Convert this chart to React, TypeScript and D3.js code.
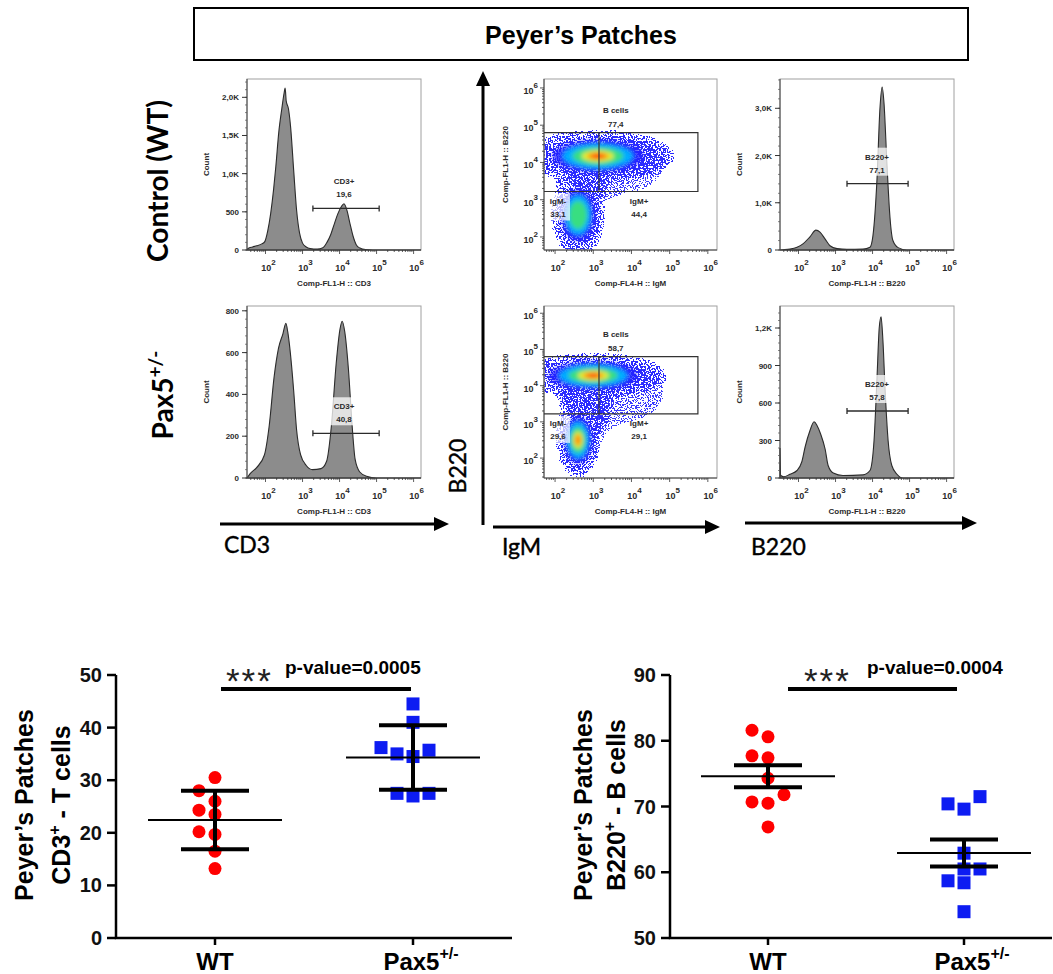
import * as d3 from 'd3';
import { useEffect, useRef } from 'react';

const W = 1053;
const H = 974;
const ARIAL = "'Liberation Sans', Arial, sans-serif";
const CALIBRI = "Lato, 'Open Sans', sans-serif";

// FlowJo histogram traces: [log10 fluorescence, count]
const cd3WtHist = [
  [1.5, 0], [1.53, 20], [1.65, 40], [1.76, 55], [1.9, 80], [1.98, 110], [2.06, 250], [2.14, 480],
  [2.22, 800], [2.28, 1100], [2.36, 1550], [2.44, 1850], [2.5, 2050], [2.53, 2120], [2.56, 1950],
  [2.62, 1850], [2.68, 1600], [2.76, 1050], [2.84, 520], [2.92, 220], [3.0, 90], [3.1, 40], [3.2, 20],
  [3.4, 12], [3.55, 30], [3.66, 100], [3.76, 200], [3.85, 330], [3.95, 470], [4.05, 570], [4.12, 605],
  [4.2, 520], [4.28, 350], [4.36, 190], [4.45, 70], [4.55, 25], [4.7, 5], [4.9, 0], [6.2, 0],
];
const cd3PaxHist = [
  [1.5, 0], [1.58, 20], [1.76, 50], [1.97, 110], [2.1, 250], [2.23, 480], [2.35, 620], [2.47, 690],
  [2.55, 740], [2.6, 700], [2.67, 600], [2.76, 420], [2.84, 230], [2.95, 110], [3.1, 60], [3.27, 40],
  [3.5, 45], [3.65, 80], [3.78, 250], [3.91, 550], [4.01, 710], [4.07, 750], [4.14, 700], [4.24, 520],
  [4.34, 250], [4.42, 90], [4.54, 30], [4.73, 8], [5.0, 0], [6.2, 0],
];
const b220WtHist = [
  [1.5, 0], [1.58, 5], [1.77, 20], [1.96, 60], [2.12, 130], [2.31, 280], [2.47, 420], [2.58, 380],
  [2.72, 230], [2.85, 90], [3.04, 30], [3.31, 15], [3.74, 20], [3.93, 60], [4.01, 300], [4.12, 1500],
  [4.2, 3000], [4.26, 3450], [4.31, 3100], [4.39, 1800], [4.47, 700], [4.55, 200], [4.69, 50],
  [4.93, 0], [6.2, 0],
];
const b220PaxHist = [
  [1.5, 240], [1.52, 20], [1.6, 10], [1.77, 30], [1.96, 60], [2.09, 130], [2.18, 250], [2.31, 380],
  [2.42, 450], [2.5, 420], [2.6, 350], [2.72, 230], [2.8, 100], [2.94, 40], [3.2, 20], [3.74, 25],
  [3.93, 60], [4.04, 300], [4.12, 800], [4.18, 1200], [4.23, 1290], [4.28, 1100], [4.34, 700],
  [4.42, 300], [4.52, 100], [4.66, 30], [4.82, 0], [6.2, 0],
];

const cd3WtTicks = [0, 500, 1000, 1500, 2000];
const cd3WtTickLabels = ['0', '500', '1,0K', '1,5K', '2,0K'];
const cd3PaxTicks = [0, 200, 400, 600, 800];
const cd3PaxTickLabels = ['0', '200', '400', '600', '800'];
const b220WtTicks = [0, 1000, 2000, 3000];
const b220WtTickLabels = ['0', '1,0K', '2,0K', '3,0K'];
const b220PaxTicks = [0, 300, 600, 900, 1200];
const b220PaxTickLabels = ['0', '300', '600', '900', '1,2K'];

// histogram gates: [from, to, count level]
const cd3Gates = [[3.28, 5.07, 545], [3.28, 5.07, 214]];
const cd3GateValues = ['19,6', '40,8'];
const b220Gates = [[3.31, 4.96, 1404], [3.31, 4.96, 536]];
const b220GateValues = ['77,1', '57,8'];

// IgM x B220 density clusters: [IgM, B220, spread IgM, spread B220, intensity]
const igmWtClusters = [
  [3.12, 4.17, 1.4, 0.5, 6],
  [2.6, 2.59, 0.5, 0.8, 3],
  [2.75, 3.4, 0.45, 0.55, 0],
];
const igmPaxClusters = [
  [3.0, 4.28, 1.35, 0.45, 6],
  [2.6, 2.5, 0.42, 0.75, 5],
  [2.8, 3.4, 0.5, 0.55, 0],
];
// sparse events: [IgM, B220, spread IgM, spread B220]
const igmWtSparse = [[3.5, 3.9, 1.8, 1.2], [2.7, 2.2, 0.9, 0.8]];
const igmPaxSparse = [[3.5, 3.8, 1.8, 1.3], [2.7, 2.2, 0.9, 0.8]];
const bCellGate = [3.22, 4.8, 5.74];
const igmSplit = 3.15;
const bCellValues = ['77,4', '58,7'];
const igmNegValues = ['33,1', '29,6'];
const igmPosValues = ['44,4', '29,1'];

// dot plots (% of cells)
const groups = ['WT', 'Pax5'];
const cd3Wt = [30.5, 28, 26, 24.3, 23.5, 20.2, 19.7, 16.5, 13.2];
const cd3Pax = [44.5, 41, 36.2, 35.7, 35, 34.5, 27.5, 27.5, 27];
const b220Wt = [81.6, 80.6, 77.7, 77.4, 74.3, 71.8, 70.7, 70.5, 66.9];
const b220Pax = [71.5, 70.4, 69.6, 62.9, 60.5, 60.5, 58.7, 58.4, 54.0];
const cd3AxisTicks = [0, 10, 20, 30, 40, 50];
const b220AxisTicks = [50, 60, 70, 80, 90];

const HIST_X = [1.5, 6.2];
const DENS_X = [1.71, 6.24];
const levelColors = ['#2020ff', '#00b4ff', '#3ce07a', '#f2ee1e', '#ff8a10', '#ff1a10'];
const levelScale = [0.85, 0.66, 0.48, 0.3, 0.2, 0.1];

function flowText(g, x, y, txt, anchor = 'middle') {
  return g.append('text').attr('x', x).attr('y', y).attr('text-anchor', anchor)
    .attr('font-family', ARIAL).attr('font-weight', 'bold').attr('font-size', 8).attr('fill', '#2a2a2a').text(txt);
}

function logAxisX(g, x, yb, domain) {
  for (let d = Math.floor(domain[0]); d <= domain[1]; d++) {
    for (let k = 1; k <= 9; k++) {
      const v = d + Math.log10(k);
      if (v <= domain[0] || v >= domain[1]) continue;
      g.append('line').attr('x1', x(v)).attr('x2', x(v)).attr('y1', yb).attr('y2', yb + (k === 1 ? 4 : 2))
        .attr('stroke', '#333').attr('stroke-width', 0.8);
      if (k === 1) {
        const t = g.append('text').attr('x', x(v) + 3).attr('y', yb + 21).attr('text-anchor', 'middle')
          .attr('font-family', ARIAL).attr('font-weight', 'bold').attr('font-size', 9).attr('fill', '#2a2a2a');
        t.append('tspan').text('10');
        t.append('tspan').attr('dy', -6).attr('font-size', 8).text(d);
      }
    }
  }
}

function logAxisY(g, y, xb, domain) {
  for (let d = Math.floor(domain[0]); d <= domain[1]; d++) {
    for (let k = 1; k <= 9; k++) {
      const v = d + Math.log10(k);
      if (v <= domain[0] || v >= domain[1]) continue;
      g.append('line').attr('x1', xb).attr('x2', xb - (k === 1 ? 4 : 2)).attr('y1', y(v)).attr('y2', y(v))
        .attr('stroke', '#333').attr('stroke-width', 0.8);
      if (k === 1) {
        const t = g.append('text').attr('x', xb - 6).attr('y', y(v) + 6).attr('text-anchor', 'end')
          .attr('font-family', ARIAL).attr('font-weight', 'bold').attr('font-size', 9).attr('fill', '#2a2a2a');
        t.append('tspan').text('10');
        t.append('tspan').attr('dy', -6).attr('font-size', 8).text(d);
      }
    }
  }
}

function drawHist(root, o) {
  const { x0, y0, w, h, trace, yMax, ticks, tickLabels, gate, gateName, gateValue, xLabel } = o;
  const x = d3.scaleLinear().domain(HIST_X).range([x0, x0 + w]);
  const y = d3.scaleLinear().domain([0, yMax]).range([y0 + h, y0]);
  const g = root.append('g');
  g.append('rect').attr('x', x0).attr('y', y0).attr('width', w).attr('height', h)
    .attr('fill', '#fff').attr('stroke', '#a0a0a0');
  const area = d3.area().x((d) => x(d[0])).y0(y(0)).y1((d) => y(d[1])).curve(d3.curveMonotoneX);
  g.append('path').datum(trace).attr('d', area).attr('fill', '#8c8c8c')
    .attr('stroke', '#2b2b2b').attr('stroke-width', 1.1);
  g.append('path').attr('d', `M${x0},${y0}V${y0 + h}H${x0 + w}`).attr('fill', 'none')
    .attr('stroke', '#444').attr('stroke-width', 1);

  const step = ticks[1] / 5;
  d3.range(0, yMax, step).forEach((v) => {
    g.append('line').attr('x1', x0).attr('x2', x0 - 2).attr('y1', y(v)).attr('y2', y(v))
      .attr('stroke', '#555').attr('stroke-width', 0.7);
  });
  ticks.forEach((t, i) => {
    g.append('line').attr('x1', x0).attr('x2', x0 - 5).attr('y1', y(t)).attr('y2', y(t))
      .attr('stroke', '#333').attr('stroke-width', 1);
    flowText(g, x0 - 8, y(t) + 3, tickLabels[i], 'end');
  });
  logAxisX(g, x, y0 + h, HIST_X);
  flowText(g, x0 + w / 2, y0 + h + 36, xLabel);
  flowText(g, 0, 0, 'Count').attr('transform', `translate(${x0 - 38},${y0 + h / 2}) rotate(-90)`);

  // gate
  const gy = y(gate[2]);
  g.append('path').attr('d', `M${x(gate[0])},${gy}H${x(gate[1])}M${x(gate[0])},${gy - 3}v6M${x(gate[1])},${gy - 3}v6`)
    .attr('stroke', '#2b2b2b').attr('stroke-width', 1.3).attr('fill', 'none');
  const lx = x(4.12);
  g.append('rect').attr('x', lx - 13).attr('y', gy - 36).attr('width', 26).attr('height', 28)
    .attr('fill', '#fff').attr('opacity', 0.75);
  flowText(g, lx, gy - 24, gateName);
  flowText(g, lx, gy - 11, gateValue);
}

function drawDensity(root, o) {
  const { x0, y0, w, h, yDomain, clusters, sparse, bVal, negVal, posVal, clipId } = o;
  const x = d3.scaleLinear().domain(DENS_X).range([x0, x0 + w]);
  const y = d3.scaleLinear().domain(yDomain).range([y0 + h, y0]);
  const rx = (c, s) => (x(c[0] + c[2]) - x(c[0])) * s;
  const ry = (c, s) => (y(c[1]) - y(c[1] + c[3])) * s;
  const g = root.append('g');
  g.append('rect').attr('x', x0).attr('y', y0).attr('width', w).attr('height', h).attr('fill', '#fff');
  g.append('clipPath').attr('id', clipId).append('rect')
    .attr('x', x0).attr('y', y0).attr('width', w).attr('height', h);
  const inner = g.append('g').attr('clip-path', `url(#${clipId})`);

  const thin = inner.append('g').attr('filter', 'url(#sparse)');
  sparse.forEach((c) => {
    thin.append('ellipse').attr('cx', x(c[0])).attr('cy', y(c[1]))
      .attr('rx', rx(c, 1)).attr('ry', ry(c, 1)).attr('fill', '#000');
  });
  const halo = inner.append('g').attr('filter', 'url(#speckle)');
  clusters.forEach((c) => {
    halo.append('ellipse').attr('cx', x(c[0])).attr('cy', y(c[1]))
      .attr('rx', rx(c, 1.5)).attr('ry', ry(c, 1.5)).attr('fill', '#000');
  });
  const core = inner.append('g').attr('filter', 'url(#soft)');
  clusters.forEach((c) => {
    for (let k = 0; k < c[4]; k++) {
      core.append('ellipse').attr('cx', x(c[0])).attr('cy', y(c[1]))
        .attr('rx', rx(c, levelScale[k])).attr('ry', ry(c, levelScale[k]))
        .attr('fill', levelColors[k]).attr('opacity', k === 0 ? 0.85 : 0.95);
    }
  });

  g.append('rect').attr('x', x0).attr('y', y0).attr('width', w).attr('height', h)
    .attr('fill', 'none').attr('stroke', '#a0a0a0');
  g.append('path').attr('d', `M${x0},${y0}V${y0 + h}H${x0 + w}`).attr('fill', 'none')
    .attr('stroke', '#444').attr('stroke-width', 1);
  logAxisX(g, x, y0 + h, DENS_X);
  logAxisY(g, y, x0, yDomain);
  flowText(g, x0 + w / 2, y0 + h + 36, 'Comp-FL4-H :: IgM');
  flowText(g, 0, 0, 'Comp-FL1-H :: B220').attr('transform', `translate(${x0 - 36},${y0 + h / 2}) rotate(-90)`);

  // gates
  const top = y(bCellGate[1]);
  const bot = y(bCellGate[0]);
  g.append('path').attr('d', `M${x0},${top}H${x(bCellGate[2])}V${bot}H${x0}M${x(igmSplit)},${top}V${bot}`)
    .attr('fill', 'none').attr('stroke', '#333').attr('stroke-width', 1.2);
  flowText(g, x(3.59), top - 20, 'B cells');
  flowText(g, x(3.59), top - 6, bVal);
  g.append('rect').attr('x', x0 + 2).attr('y', bot + 2).attr('width', 24).attr('height', 27)
    .attr('fill', '#fff').attr('opacity', 0.7);
  flowText(g, x0 + 14, bot + 12, 'IgM-');
  flowText(g, x0 + 14, bot + 25, negVal);
  flowText(g, x(4.2), bot + 12, 'IgM+');
  flowText(g, x(4.2), bot + 25, posVal);
}

function dodge(values, y, gap) {
  const order = d3.range(values.length).sort((a, b) => values[a] - values[b]);
  const cols = new Array(values.length);
  const placed = [];
  const cand = [0, -1, 1, -2, 2];
  order.forEach((i) => {
    const c = cand.find((col) => placed.every((p) => p.col !== col || Math.abs(y(p.v) - y(values[i])) >= gap));
    cols[i] = c;
    placed.push({ col: c, v: values[i] });
  });
  return cols;
}

function drawDots(root, o) {
  const { left, right, axisEnd, top, bottom, domain, ticks, wt, pax, err, line1X, line2X, line2, sigA, sigB, starX, pX, pText } = o;
  const y = d3.scaleLinear().domain(domain).range([bottom, top]);
  const x = d3.scalePoint().domain(groups).range([left, right]).padding(0.5);
  const g = root.append('g').attr('font-family', ARIAL).attr('font-weight', 'bold');

  g.append('path').attr('d', `M${left},${top}V${bottom}H${axisEnd}`).attr('fill', 'none')
    .attr('stroke', '#000').attr('stroke-width', 2.5);
  ticks.forEach((t) => {
    g.append('line').attr('x1', left - 9).attr('x2', left).attr('y1', y(t)).attr('y2', y(t))
      .attr('stroke', '#000').attr('stroke-width', 2.5);
    g.append('text').attr('x', left - 14).attr('y', y(t) + 7).attr('text-anchor', 'end')
      .attr('font-size', 20).attr('fill', '#111').text(t);
  });
  groups.forEach((k) => {
    g.append('line').attr('x1', x(k)).attr('x2', x(k)).attr('y1', bottom).attr('y2', bottom + 7)
      .attr('stroke', '#000').attr('stroke-width', 2.5);
  });
  g.append('text').attr('x', x('WT')).attr('y', 970).attr('text-anchor', 'middle').attr('font-size', 24).text('WT');
  const pt = g.append('text').attr('x', x('Pax5') + 8).attr('y', 970).attr('text-anchor', 'middle').attr('font-size', 24);
  pt.append('tspan').text('Pax5');
  pt.append('tspan').attr('dy', -11).attr('font-size', 16).text('+/-');

  const cy = 805;
  g.append('text').attr('transform', `translate(${line1X},${cy}) rotate(-90)`).attr('text-anchor', 'middle')
    .attr('font-size', 25).text('Peyer’s Patches');
  const l2 = g.append('text').attr('transform', `translate(${line2X},${cy}) rotate(-90)`).attr('text-anchor', 'middle')
    .attr('font-size', 25);
  l2.append('tspan').text(line2[0]);
  l2.append('tspan').attr('dy', -10).attr('font-size', 16).text('+');
  l2.append('tspan').attr('dy', 10).text(line2[1]);

  // significance
  g.append('line').attr('x1', x('WT') + sigA).attr('x2', x('Pax5') + sigB).attr('y1', 689).attr('y2', 689)
    .attr('stroke', '#000').attr('stroke-width', 4);
  g.append('text').attr('x', starX).attr('y', 693).attr('font-size', 35).attr('font-weight', 'normal')
    .attr('fill', '#222').attr('letter-spacing', 2).text('***');
  g.append('text').attr('x', pX).attr('y', 674).attr('font-size', 19).text(pText);

  [[wt, 'WT'], [pax, 'Pax5']].forEach(([vals, key]) => {
    const cx = x(key);
    const cols = dodge(vals, y, 13);
    const m = d3.mean(vals);
    const sd = d3.deviation(vals);
    const e = err === 'sd' ? sd : sd / Math.sqrt(vals.length);
    vals.forEach((v, i) => {
      const px = cx + cols[i] * 16;
      if (key === 'WT') {
        g.append('circle').attr('cx', px).attr('cy', y(v)).attr('r', 6.5).attr('fill', '#ff0000');
      } else {
        g.append('rect').attr('x', px - 6.5).attr('y', y(v) - 6.5).attr('width', 13).attr('height', 13).attr('fill', '#0d1cf2');
      }
    });
    g.append('line').attr('x1', cx - 67).attr('x2', cx + 67).attr('y1', y(m)).attr('y2', y(m))
      .attr('stroke', '#000').attr('stroke-width', 2);
    g.append('line').attr('x1', cx).attr('x2', cx).attr('y1', y(m + e)).attr('y2', y(m - e))
      .attr('stroke', '#000').attr('stroke-width', 4);
    [m + e, m - e].forEach((v) => {
      g.append('line').attr('x1', cx - 34).attr('x2', cx + 34).attr('y1', y(v)).attr('y2', y(v))
        .attr('stroke', '#000').attr('stroke-width', 4);
    });
  });
}

function arrow(root, x1, y1, x2, y2) {
  const a = Math.atan2(y2 - y1, x2 - x1);
  const L = 15;
  const hw = 7;
  const bx = x2 - L * Math.cos(a);
  const by = y2 - L * Math.sin(a);
  root.append('line').attr('x1', x1).attr('y1', y1).attr('x2', bx).attr('y2', by)
    .attr('stroke', '#000').attr('stroke-width', 3);
  root.append('path')
    .attr('d', `M${x2},${y2}L${bx - hw * Math.sin(a)},${by + hw * Math.cos(a)}L${bx + hw * Math.sin(a)},${by - hw * Math.cos(a)}Z`)
    .attr('fill', '#000');
}

export default function App() {
  const ref = useRef(null);

  useEffect(() => {
    const root = d3.select(ref.current);
    root.selectAll('*').remove();

    // title box
    root.append('rect').attr('x', 194).attr('y', 8).attr('width', 774).attr('height', 52)
      .attr('fill', '#fff').attr('stroke', '#000').attr('stroke-width', 2);
    root.append('text').attr('x', 581).attr('y', 44).attr('text-anchor', 'middle')
      .attr('font-family', ARIAL).attr('font-weight', 'bold').attr('font-size', 25).text('Peyer’s Patches');

    // row labels
    root.append('text').attr('transform', 'translate(168,181) rotate(-90)').attr('text-anchor', 'middle')
      .attr('font-family', CALIBRI).attr('font-weight', 'bold').attr('font-size', 28).text('Control (WT)');
    const pl = root.append('text').attr('transform', 'translate(173,395) rotate(-90)').attr('text-anchor', 'middle')
      .attr('font-family', CALIBRI).attr('font-weight', 'bold').attr('font-size', 28);
    pl.append('tspan').text('Pax5');
    pl.append('tspan').attr('dy', -11).attr('font-size', 19).text('+/-');

    const rows = [{ y0: 79, h: 171, yDomain: [1.65, 6.24] }, { y0: 306, h: 172, yDomain: [1.45, 6.2] }];
    const cd3Hists = [cd3WtHist, cd3PaxHist];
    const cd3Max = [2240, 823];
    const cd3T = [[cd3WtTicks, cd3WtTickLabels], [cd3PaxTicks, cd3PaxTickLabels]];
    const b220Hists = [b220WtHist, b220PaxHist];
    const b220Max = [3620, 1376];
    const b220T = [[b220WtTicks, b220WtTickLabels], [b220PaxTicks, b220PaxTickLabels]];
    const dens = [igmWtClusters, igmPaxClusters];
    const sparse = [igmWtSparse, igmPaxSparse];

    rows.forEach((r, i) => {
      drawHist(root, {
        x0: 247, y0: r.y0, w: 174, h: r.h, trace: cd3Hists[i], yMax: cd3Max[i],
        ticks: cd3T[i][0], tickLabels: cd3T[i][1], gate: cd3Gates[i], gateName: 'CD3+',
        gateValue: cd3GateValues[i], xLabel: 'Comp-FL1-H :: CD3',
      });
      drawDensity(root, {
        x0: 544, y0: r.y0, w: 173, h: r.h, yDomain: r.yDomain, clusters: dens[i], sparse: sparse[i],
        bVal: bCellValues[i], negVal: igmNegValues[i], posVal: igmPosValues[i], clipId: `dclip${i}`,
      });
      drawHist(root, {
        x0: 780, y0: r.y0, w: 174, h: r.h, trace: b220Hists[i], yMax: b220Max[i],
        ticks: b220T[i][0], tickLabels: b220T[i][1], gate: b220Gates[i], gateName: 'B220+',
        gateValue: b220GateValues[i], xLabel: 'Comp-FL1-H :: B220',
      });
    });

    // channel arrows
    arrow(root, 220, 524, 449, 524);
    arrow(root, 483, 525, 483, 71);
    arrow(root, 493, 527, 720, 527);
    arrow(root, 745, 523, 977, 523);
    const lbl = (x, y, t, rot = false) => root.append('text')
      .attr('transform', rot ? `translate(${x},${y}) rotate(-90)` : `translate(${x},${y})`)
      .attr('text-anchor', rot ? 'middle' : 'start')
      .attr('font-family', CALIBRI).attr('font-size', 23).attr('fill', '#000')
      .attr('stroke', '#000').attr('stroke-width', 0.4).text(t);
    lbl(224, 553, 'CD3');
    lbl(502, 555, 'IgM');
    lbl(751, 555, 'B220');
    lbl(466, 466, 'B220', true);

    drawDots(root, {
      left: 116, right: 512, axisEnd: 512, top: 675, bottom: 938, domain: [0, 50], ticks: cd3AxisTicks,
      wt: cd3Wt, pax: cd3Pax, err: 'sd', line1X: 33, line2X: 70, line2: ['CD3', ' - T cells'],
      sigA: 6, sigB: -2, starX: 226, pX: 285, pText: 'p-value=0.0005',
    });
    drawDots(root, {
      left: 670, right: 1062, axisEnd: 1052, top: 675, bottom: 938, domain: [50, 90], ticks: b220AxisTicks,
      wt: b220Wt, pax: b220Pax, err: 'sem', line1X: 592, line2X: 625, line2: ['B220', ' - B cells'],
      sigA: 20, sigB: -7, starX: 804, pX: 867, pText: 'p-value=0.0004',
    });
  }, []);

  return (
    <svg width={W} height={H} style={{ position: 'absolute', left: 0, top: 0, background: '#fff' }}>
      <defs>
        <filter id="speckle" filterUnits="userSpaceOnUse" x={0} y={0} width={W} height={H} colorInterpolationFilters="sRGB">
          <feGaussianBlur in="SourceAlpha" stdDeviation={6} result="dens" />
          <feTurbulence type="fractalNoise" baseFrequency={0.6} numOctaves={1} seed={5} result="noise" />
          <feColorMatrix in="noise" type="matrix" values="0 0 0 0 0 0 0 0 0 0 0 0 0 0 0 3.33 0 0 0 -1" result="na" />
          <feComposite in="dens" in2="na" operator="arithmetic" k1={1} k2={0} k3={0} k4={0} result="prod" />
          <feComponentTransfer in="prod" result="mask">
            <feFuncA type="discrete" tableValues="0 0 0 0 0 0 1 1 1 1" />
          </feComponentTransfer>
          <feFlood floodColor="#2b2bff" result="col" />
          <feComposite in="col" in2="mask" operator="in" />
        </filter>
        <filter id="sparse" filterUnits="userSpaceOnUse" x={0} y={0} width={W} height={H} colorInterpolationFilters="sRGB">
          <feGaussianBlur in="SourceAlpha" stdDeviation={10} result="dens" />
          <feTurbulence type="fractalNoise" baseFrequency={0.7} numOctaves={1} seed={11} result="noise" />
          <feColorMatrix in="noise" type="matrix" values="0 0 0 0 0 0 0 0 0 0 0 0 0 0 0 5 0 0 0 -1.75" result="na" />
          <feComposite in="dens" in2="na" operator="arithmetic" k1={1} k2={0} k3={0} k4={0} result="prod" />
          <feComponentTransfer in="prod" result="mask">
            <feFuncA type="discrete" tableValues="0 0 0 0 0 0 0 0 0 0 0 0 0 0 0 0 0 0 0 1" />
          </feComponentTransfer>
          <feFlood floodColor="#3a3aff" result="col" />
          <feComposite in="col" in2="mask" operator="in" />
        </filter>
        <filter id="soft" x="-50%" y="-50%" width="200%" height="200%">
          <feGaussianBlur stdDeviation={2.2} />
        </filter>
      </defs>
      <g ref={ref} />
    </svg>
  );
}
